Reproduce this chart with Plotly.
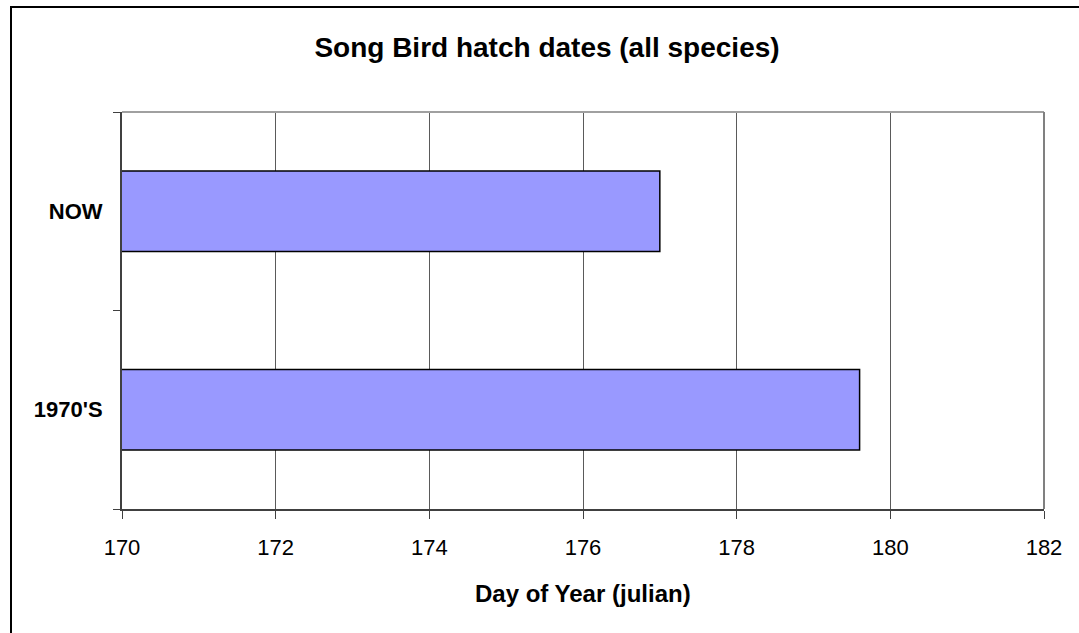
import plotly.graph_objects as go

# Mean hatch date per period (day of year)
periods = ["1970'S", "NOW"]
hatch_day = [179.6, 177.0]

x_ticks = [170, 172, 174, 176, 178, 180, 182]

W, H = 1079, 633
ML, MR, MT, MB = 122, 35, 112, 124
pw, ph = W - ML - MR, H - MT - MB

fig = go.Figure(
    go.Bar(
        y=periods,
        x=hatch_day,
        orientation="h",
        marker=dict(color="#9999FF", line=dict(color="#000000", width=1.5)),
        hoverinfo="x+y",
    )
)

font_family = "Liberation Sans, Arial, sans-serif"

fig.update_layout(
    width=W,
    height=H,
    margin=dict(l=ML, r=MR, t=MT, b=MB),
    paper_bgcolor="white",
    plot_bgcolor="white",
    bargap=0.595,
    showlegend=False,
    font=dict(family=font_family, color="#000000"),
    title=dict(
        text="<b>Song Bird hatch dates (all species)</b>",
        font=dict(size=28, family=font_family, color="#000000"),
        x=547 / W,
        xanchor="center",
        y=1 - 47 / H,
        yanchor="middle",
        yref="container",
    ),
    xaxis=dict(
        range=[170, 182],
        tickvals=x_ticks,
        ticktext=[str(v) for v in x_ticks],
        showgrid=True,
        gridcolor="#5a5a5a",
        gridwidth=1,
        showline=True,
        linecolor="#404040",
        linewidth=2,
        ticks="outside",
        ticklen=8,
        tickcolor="#404040",
        tickwidth=1,
        tickfont=dict(size=22, family=font_family, color="#000000"),
        ticklabelstandoff=10,
        zeroline=False,
    ),
    yaxis=dict(
        type="category",
        categoryorder="array",
        categoryarray=periods,
        showgrid=False,
        showline=True,
        linecolor="#404040",
        linewidth=2,
        ticks="outside",
        tickson="boundaries",
        ticklen=7,
        tickcolor="#404040",
        tickwidth=1,
        tickfont=dict(size=22, family=font_family, color="#000000", weight="bold"),
        ticklabelstandoff=13,
        zeroline=False,
    ),
    annotations=[
        # x-axis title
        dict(
            text="<b>Day of Year (julian)</b>",
            xref="paper", yref="paper",
            x=0.5, y=-(593 - (H - MB)) / ph,
            xanchor="center", yanchor="middle",
            showarrow=False,
            font=dict(size=24, family=font_family, color="#000000"),
        )
    ],
    shapes=[
        # plot area frame, top and right
        dict(type="line", xref="paper", yref="paper", x0=0, x1=1, y0=1, y1=1,
             line=dict(color="#a0a0a0", width=2)),
        dict(type="line", xref="paper", yref="paper", x0=1, x1=1, y0=0, y1=1,
             line=dict(color="#808080", width=2)),
        # outer chart border
        dict(type="rect", xref="paper", yref="paper",
             x0=(11 - ML) / pw, x1=(W + 20 - ML) / pw,
             y0=-(H + 20 - MT - ph) / ph, y1=1 + (MT - 7) / ph,
             line=dict(color="#000000", width=2), fillcolor="rgba(0,0,0,0)"),
    ],
)

fig.write_html("out.html")
